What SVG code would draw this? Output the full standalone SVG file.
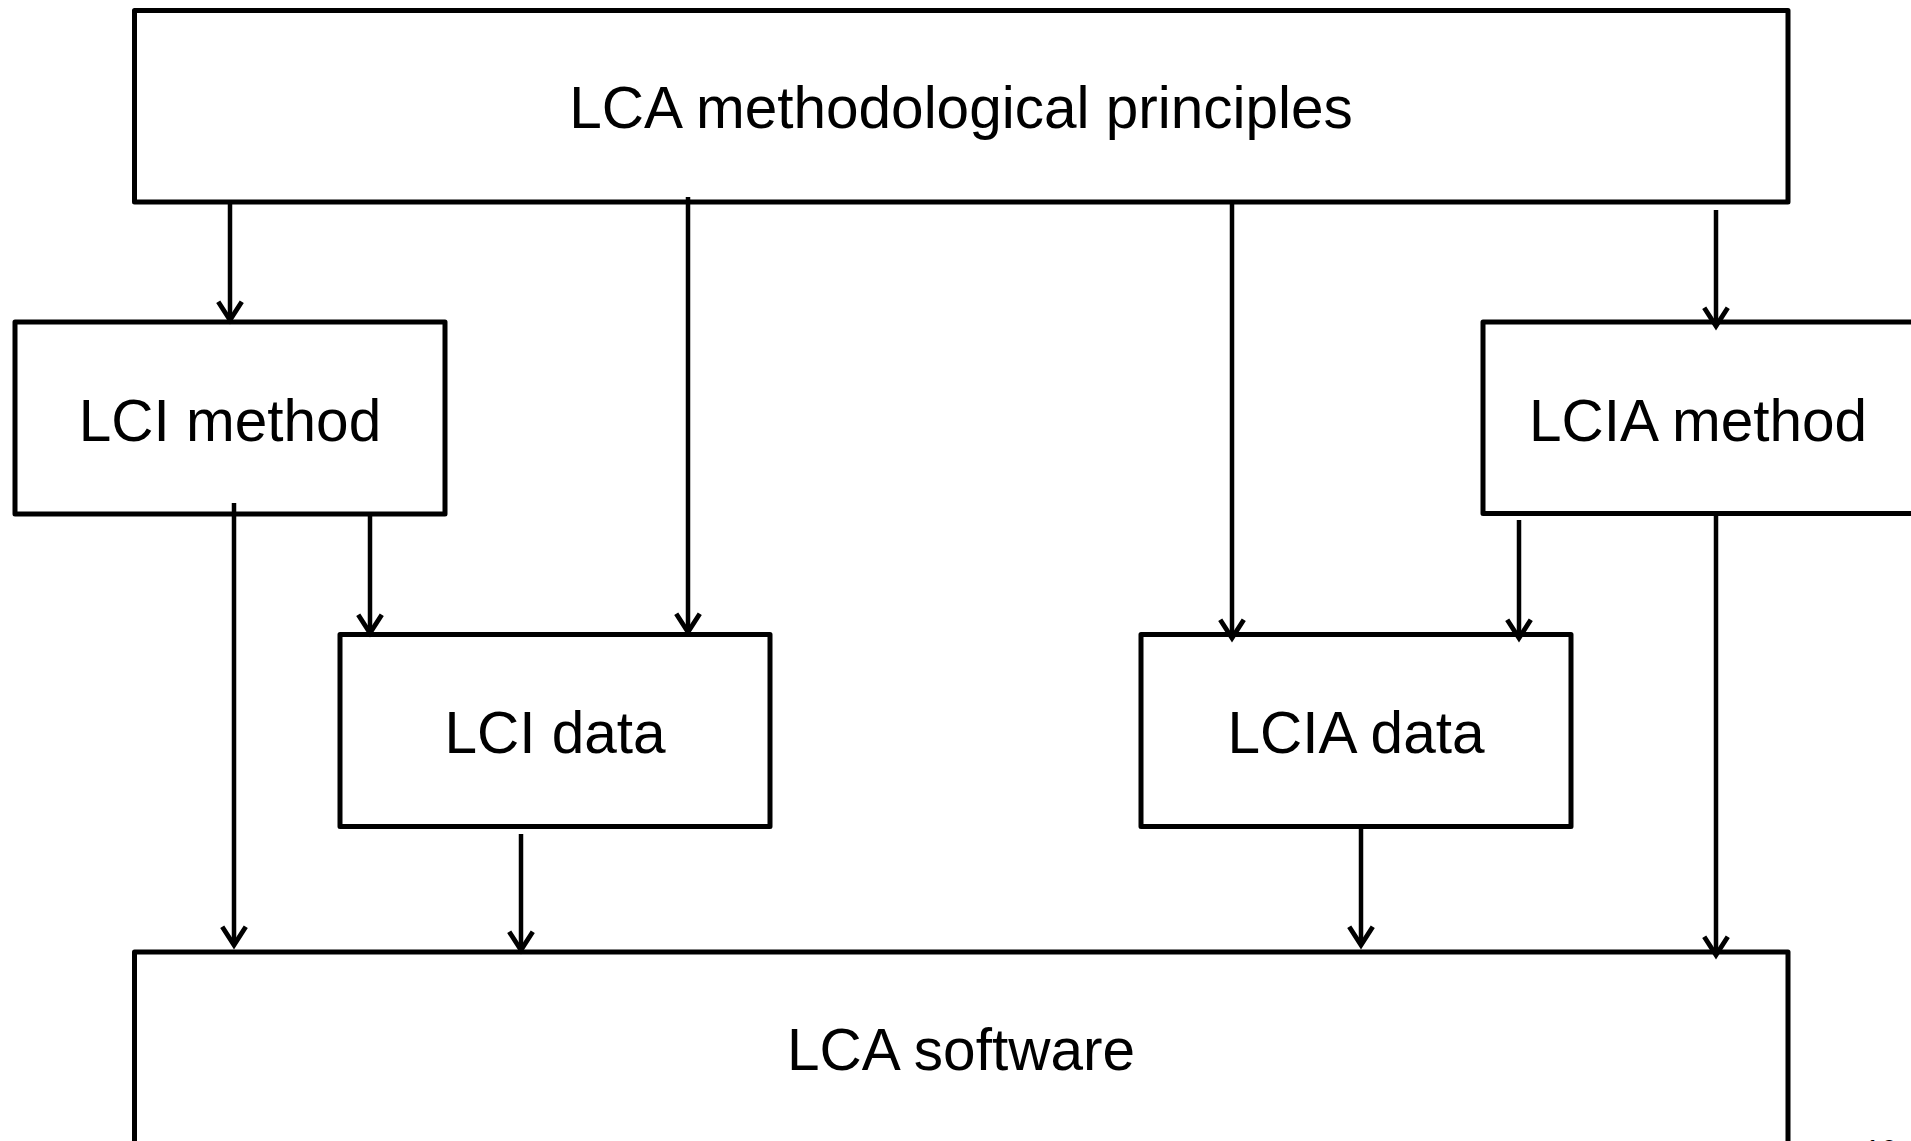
<svg xmlns="http://www.w3.org/2000/svg" width="1911" height="1141" viewBox="0 0 1911 1141">
  <style>
    .box { fill: #ffffff; stroke: #000000; stroke-width: 5; stroke-linejoin: round; }
    .label { font-family: "Liberation Sans", Arial, sans-serif; font-size: 58.5px; fill: #000000; text-anchor: middle; }
    .wire { stroke: #000000; stroke-width: 4.5; fill: none; marker-end: url(#head); }
    .pagenum { font-family: "Liberation Sans", Arial, sans-serif; font-size: 30px; fill: #000000; }
  </style>
  <defs>
    <!-- open V arrowhead, tip at the line end -->
    <marker id="head" markerUnits="userSpaceOnUse" markerWidth="30" markerHeight="30" viewBox="-20 -14 24 28" refX="0" refY="0" orient="auto">
      <path d="M -17 -11 L 0 0 L -17 11" fill="none" stroke="#000000" stroke-width="4.5" stroke-linejoin="miter"/>
    </marker>
  </defs>
  <rect width="1911" height="1141" fill="#ffffff"/>

  <g id="principles">
    <rect class="box" x="134.5" y="10.5" width="1653.5" height="191.5"/>
    <text class="label" x="961" y="128">LCA methodological principles</text>
  </g>

  <g id="lci-method">
    <rect class="box" x="15" y="322" width="430" height="192"/>
    <text class="label" x="230" y="441">LCI method</text>
  </g>

  <g id="lcia-method">
    <rect class="box" x="1483" y="322" width="440" height="191.5"/>
    <text class="label" x="1698" y="441">LCIA method</text>
  </g>

  <g id="lci-data">
    <rect class="box" x="340" y="634.5" width="430" height="192"/>
    <text class="label" x="555" y="753">LCI data</text>
  </g>

  <g id="lcia-data">
    <rect class="box" x="1141" y="634.5" width="430" height="192"/>
    <text class="label" x="1356" y="753">LCIA data</text>
  </g>

  <g id="software">
    <rect class="box" x="134.5" y="952" width="1653.5" height="220"/>
    <text class="label" x="961" y="1070">LCA software</text>
  </g>

  <g id="connectors">
    <line class="wire" x1="230" y1="203" x2="230" y2="320"/>
    <line class="wire" x1="688" y1="197" x2="688" y2="632"/>
    <line class="wire" x1="1232" y1="203" x2="1232" y2="638"/>
    <line class="wire" x1="1716" y1="210" x2="1716" y2="326"/>
    <line class="wire" x1="234" y1="503" x2="234" y2="945"/>
    <line class="wire" x1="370" y1="515" x2="370" y2="633"/>
    <line class="wire" x1="1519" y1="520" x2="1519" y2="638"/>
    <line class="wire" x1="1716" y1="515" x2="1716" y2="955"/>
    <line class="wire" x1="521" y1="834" x2="521" y2="950"/>
    <line class="wire" x1="1361" y1="827" x2="1361" y2="945"/>
  </g>

  <text class="pagenum" x="1864" y="1160">10</text>
</svg>
